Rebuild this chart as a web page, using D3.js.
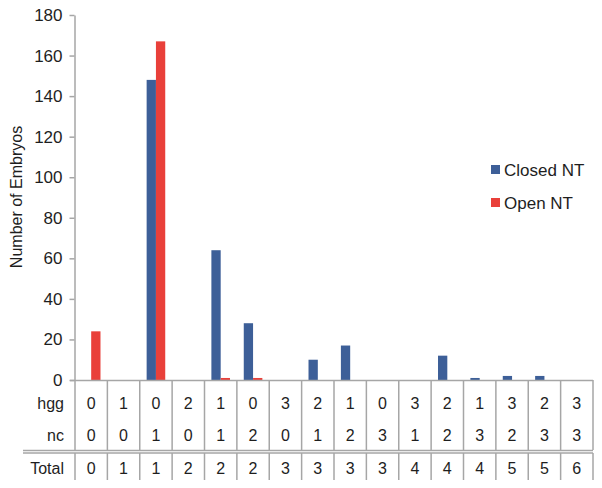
<!DOCTYPE html>
<html lang="en">
<head>
<meta charset="utf-8">
<title>Embryos chart</title>
<script src="https://d3js.org/d3.v7.min.js"></script>
<style>
  body { margin: 0; background: #fff; }
  svg { font-family: "Liberation Sans", Arial, sans-serif; }
</style>
</head>
<body>
<script>
// data
const hgg = [0, 1, 0, 2, 1, 0, 3, 2, 1, 0, 3, 2, 1, 3, 2, 3];
const nc = [0, 0, 1, 0, 1, 2, 0, 1, 2, 3, 1, 2, 3, 2, 3, 3];
const total = [0, 1, 1, 2, 2, 2, 3, 3, 3, 3, 4, 4, 4, 5, 5, 6];
const closedNT = [0, 0, 148, 0, 64, 28, 0, 10, 17, 0, 0, 12, 1, 2, 2, 0];
const openNT = [24, 0, 167, 0, 1, 1, 0, 0, 0, 0, 0, 0, 0, 0, 0, 0];
const seriesNames = ["Closed NT", "Open NT"];
const yTicks = [0, 20, 40, 60, 80, 100, 120, 140, 160, 180];

const w = 602, h = 488;
const colors = ["#3d5f98", "#e9403a"];
const gridColor = "#a6a6a6";
const textColor = "#1e1e1e";

const svg = d3.select("body").append("svg")
  .attr("width", w)
  .attr("height", h);

const x = d3.scaleBand()
  .domain(d3.range(hgg.length))
  .range([75, 593]);

const xSub = d3.scaleBand()
  .domain([0, 1])
  .range([0, 18.6]);

const y = d3.scaleLinear()
  .domain([0, 180])
  .range([380, 15]);

// y axis
const yAxis = svg.append("g")
  .attr("transform", "translate(74.5,0)")
  .call(d3.axisLeft(y).tickValues(yTicks).tickSize(5).tickSizeOuter(0).tickPadding(7));
yAxis.select(".domain").attr("stroke", gridColor).attr("stroke-width", 1.5);
yAxis.selectAll(".tick line").attr("stroke", gridColor).attr("stroke-width", 1.5);
yAxis.selectAll(".tick text")
  .attr("font-size", "17px")
  .attr("fill", textColor)
  .attr("font-family", "Liberation Sans, Arial, sans-serif");

// axis title
svg.append("text")
  .attr("transform", "translate(22,197) rotate(-90)")
  .attr("text-anchor", "middle")
  .attr("font-size", "16px")
  .attr("fill", textColor)
  .text("Number of Embryos");

// bars
const data = [closedNT, openNT];
data.forEach(function(series, s) {
  svg.append("g").selectAll("rect")
    .data(series)
    .enter()
    .append("rect")
    .attr("x", function(d, i) {
      return x(i) + (x.bandwidth() - 18.6) / 2 + xSub(s);
    })
    .attr("y", function(d) { return y(d); })
    .attr("width", xSub.bandwidth())
    .attr("height", function(d) { return y(0) - y(d); })
    .attr("fill", colors[s]);
});

// table grid
const grid = svg.append("g")
  .attr("stroke", gridColor)
  .attr("stroke-width", 1.5);

grid.append("line")
  .attr("x1", 70).attr("x2", 593)
  .attr("y1", 380.5).attr("y2", 380.5);

grid.append("line")
  .attr("x1", 23).attr("x2", 593)
  .attr("y1", 450.5).attr("y2", 450.5);
grid.append("line")
  .attr("x1", 23).attr("x2", 593)
  .attr("y1", 453).attr("y2", 453);

const bounds = d3.range(hgg.length + 1).map(function(i) {
  return i < hgg.length ? x(i) : x.range()[1];
});

grid.selectAll("line.vtop")
  .data(bounds)
  .enter()
  .append("line")
  .attr("class", "vtop")
  .attr("x1", function(d) { return d; })
  .attr("x2", function(d) { return d; })
  .attr("y1", 380)
  .attr("y2", 450);

grid.selectAll("line.vbot")
  .data(bounds)
  .enter()
  .append("line")
  .attr("class", "vbot")
  .attr("x1", function(d) { return d; })
  .attr("x2", function(d) { return d; })
  .attr("y1", 453)
  .attr("y2", 480);

// table rows
const rows = [
  { label: "hgg", values: hgg, y: 409 },
  { label: "nc", values: nc, y: 441 },
  { label: "Total", values: total, y: 474 }
];

rows.forEach(function(r) {
  svg.append("text")
    .attr("x", 64)
    .attr("y", r.y)
    .attr("text-anchor", "end")
    .attr("font-size", "16px")
    .attr("fill", textColor)
    .text(r.label);

  svg.append("g").selectAll("text")
    .data(r.values)
    .enter()
    .append("text")
    .attr("x", function(d, i) { return x(i) + x.bandwidth() / 2; })
    .attr("y", r.y)
    .attr("text-anchor", "middle")
    .attr("font-size", "16px")
    .attr("fill", textColor)
    .text(function(d) { return d; });
});

// legend
const legend = svg.append("g");
seriesNames.forEach(function(name, i) {
  const ly = 165 + i * 33;
  legend.append("rect")
    .attr("x", 491)
    .attr("y", ly)
    .attr("width", 9)
    .attr("height", 9)
    .attr("fill", colors[i]);
  legend.append("text")
    .attr("x", 504)
    .attr("y", ly + 11)
    .attr("font-size", "17px")
    .attr("fill", textColor)
    .text(name);
});
</script>
</body>
</html>
